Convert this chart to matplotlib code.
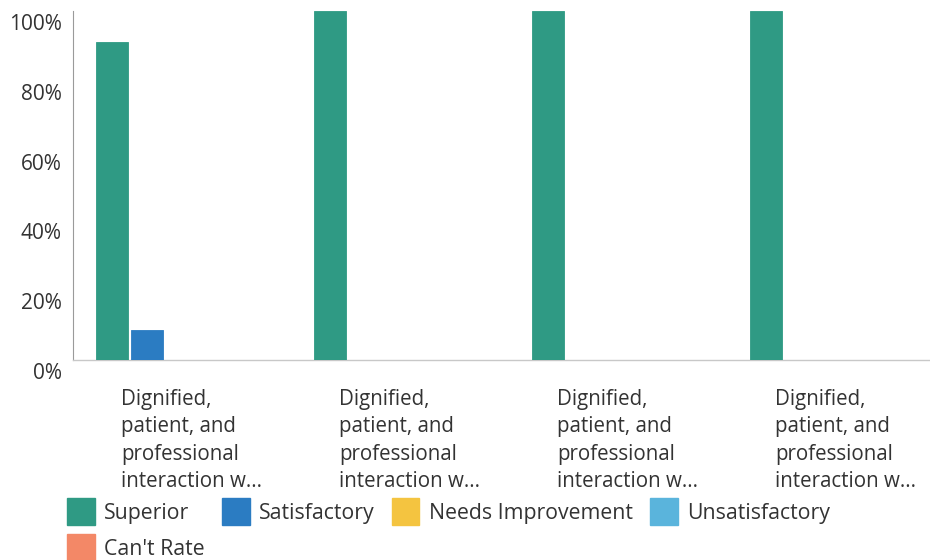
import numpy as np
import matplotlib.pyplot as plt
from matplotlib.patches import Patch
from matplotlib.transforms import ScaledTranslation

plt.rcParams['font.family'] = ['Open Sans', 'DejaVu Sans']

categories = ["Dignified,\npatient, and\nprofessional\ninteraction w..."] * 4
series = ["Superior", "Satisfactory", "Needs Improvement", "Unsatisfactory", "Can't Rate"]
colors = ["#2f9a84", "#2b7cc2", "#f4c440", "#5ab4dc", "#f38867"]
values = {
    "Superior": [91, 100, 100, 100],
    "Satisfactory": [8.5, 0, 0, 0],
    "Needs Improvement": [0, 0, 0, 0],
    "Unsatisfactory": [0, 0, 0, 0],
    "Can't Rate": [0, 0, 0, 0],
}
yticks = [0, 20, 40, 60, 80, 100]

fig = plt.figure(figsize=(9.3, 5.6), dpi=100)
ax = fig.add_axes([73 / 930, 1 - 360 / 560, 1 - 73 / 930, 349 / 560])

x = np.arange(len(categories))
step = 0.161
width = 0.147
for i, name in enumerate(series):
    offs = (i - 2) * step
    ax.bar(x + offs, values[name], width, color=colors[i], edgecolor=colors[i],
           linewidth=0.6, label=name, zorder=3)

ax.set_ylim(0, 100)
ax.set_xlim(-0.5, 3.43)
ax.set_yticks(yticks)
ax.set_yticklabels([f"{t}%" for t in yticks], fontsize=15, color="#333333")
ax.tick_params(axis='y', length=0, pad=8)
ax.tick_params(axis='x', length=0)
ax.set_xticks([])

# value labels sit a bit below their gridline
for lab in ax.get_yticklabels():
    lab.set_transform(lab.get_transform() + ScaledTranslation(0, -0.11, fig.dpi_scale_trans))

for s in ['top', 'right']:
    ax.spines[s].set_visible(False)
ax.spines['left'].set_color('#9a9a9a')
ax.spines['left'].set_linewidth(0.8)
ax.spines['bottom'].set_color('#c8c8c8')
ax.spines['bottom'].set_linewidth(1.0)

# category labels under each group
for xi, cat in zip(x, categories):
    ax.text(xi + 0.043, -8.3, cat, ha='center', va='top', multialignment='left',
            fontsize=14.8, color="#333333", linespacing=1.4,
            transform=ax.transData, clip_on=False)

# row-wise legend order for a 4-column layout
order = [0, 4, 1, 2, 3]
handles = [Patch(facecolor=colors[k], edgecolor=colors[k], label=series[k]) for k in order]
fig.legend(handles=handles, loc='upper left', bbox_to_anchor=(48 / 930, 1 - 479 / 560),
           ncol=4, frameon=False, fontsize=15.3, handlelength=1.3, handleheight=1.6,
           handletextpad=0.45, columnspacing=0.8, labelcolor="#333333",
           labelspacing=0.42)

fig.savefig("out.png", dpi=100)
